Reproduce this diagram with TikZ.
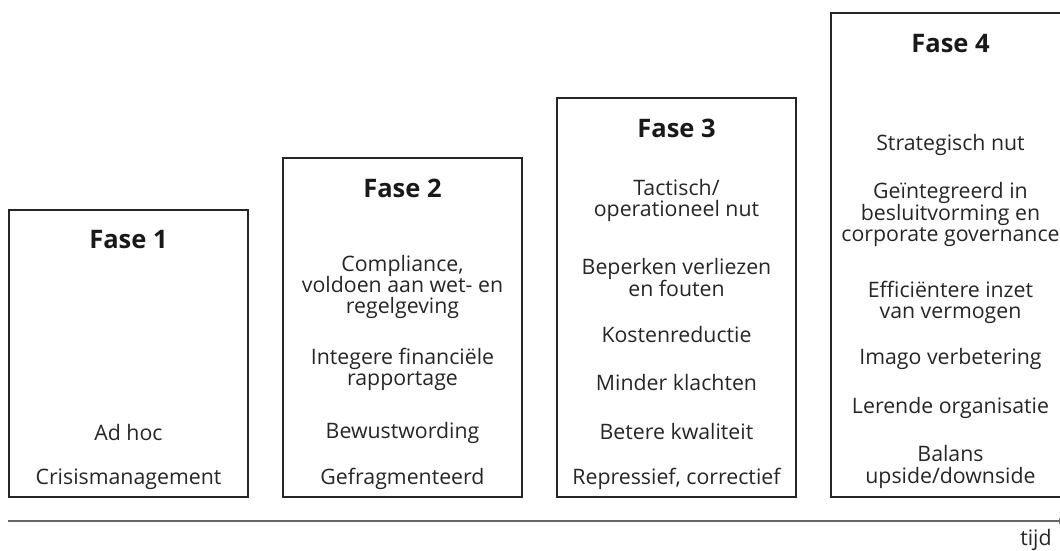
\documentclass[tikz,border=0pt]{standalone}
\usepackage{fontspec}
\setmainfont{Open Sans}
\usetikzlibrary{arrows.meta}
\tikzset{
  phasebox/.style={draw=black!85, line width=1.3pt, minimum width=239pt, inner sep=0pt},
  title/.style={font=\fontsize{25.5}{28}\selectfont\bfseries, inner sep=0pt, text=black!90},
  item/.style={font=\fontsize{21.3}{21.3}\selectfont, align=center, inner sep=0pt, text=black!85},
  axis/.style={draw=black!60, line width=1.8pt}
}
\begin{document}
\begin{tikzpicture}[x=1pt,y=-1pt]
\useasboundingbox (0,0) rectangle (1060,550);
\clip (0,0) rectangle (1060,550);
% boxes
\node[phasebox, minimum height=287pt] (b1) at (128.5,353.5) {};
\node[phasebox, minimum height=339pt] (b2) at (402.5,327.5) {};
\node[phasebox, minimum height=399pt] (b3) at (676.5,297.5) {};
\node[phasebox, minimum height=484pt] (b4) at (950.5,255) {};
% box 1
\node[title] (t1) at (128.5,240) {Fase 1};
\node[item] (a1) at (128.5,433) {Ad hoc};
\node[item] (a2) at (128.5,479) {Crisismanagement};
% box 2
\node[title] (t2) at (402.5,188) {Fase 2};
\node[item] (c1) at (402.5,287) {Compliance,\\voldoen aan wet- en\\regelgeving};
\node[item] (c2) at (402.5,369.5) {Integere financiële\\rapportage};
\node[item] (c3) at (402.5,433) {Bewustwording};
\node[item] (c4) at (402.5,479) {Gefragmenteerd};
% box 3
\node[title] (t3) at (676.5,128) {Fase 3};
\node[item] (d1) at (676.5,200.5) {Tactisch/\\operationeel nut};
\node[item] (d2) at (676.5,277.5) {Beperken verliezen\\en fouten};
\node[item] (d3) at (676.5,335) {Kostenreductie};
\node[item] (d4) at (676.5,383) {Minder klachten};
\node[item] (d5) at (676.5,432) {Betere kwaliteit};
\node[item] (d6) at (676.5,479) {Repressief, correctief};
% box 4
\node[title] (t4) at (950.5,44) {Fase 4};
\node[item] (e1) at (950.5,145) {Strategisch nut};
\node[item] (e2) at (950.5,214.5) {Geïntegreerd in\\besluitvorming en\\corporate governance};
\node[item] (e3) at (950.5,302.5) {Efficiëntere inzet\\van vermogen};
\node[item] (e4) at (950.5,359) {Imago verbetering};
\node[item] (e5) at (950.5,408) {Lerende organisatie};
\node[item] (e6) at (950.5,467) {Balans\\upside/downside};
% axis
\coordinate (axs) at (8,521);
\coordinate (axe) at (1066,521);
\draw[axis, -{Latex[length=7pt,width=6pt]}] (axs) -- (axe);
\node[item] (tijd) at (1036,540) {tijd};
\end{tikzpicture}
\end{document}
